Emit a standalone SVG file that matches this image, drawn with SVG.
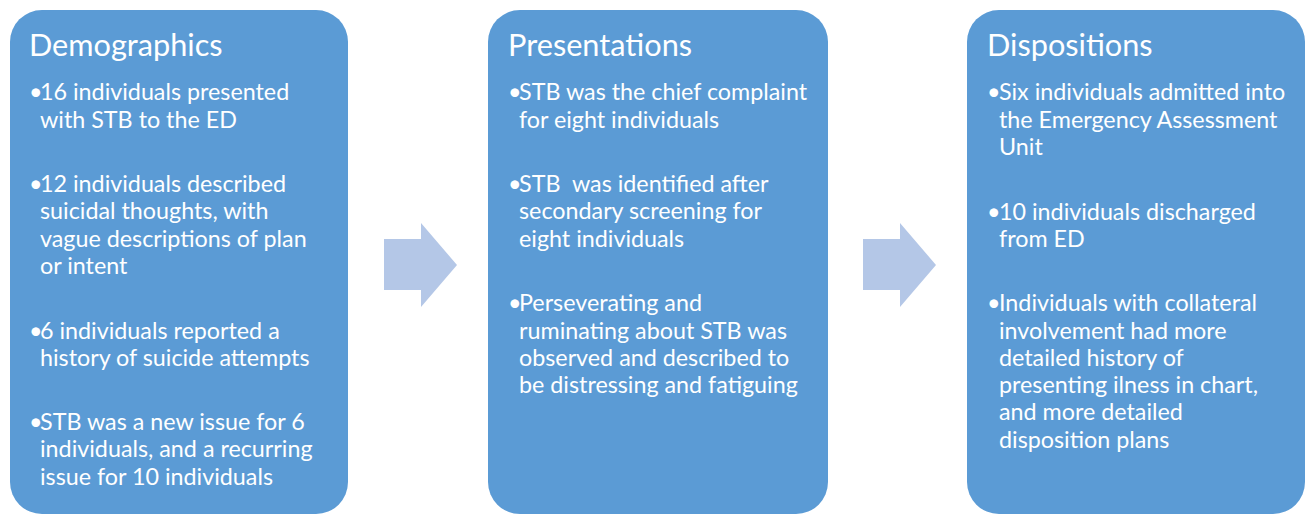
<svg xmlns="http://www.w3.org/2000/svg" width="1306" height="515" viewBox="0 0 1306 515">
<style>
.box{fill:#5B9BD5}
.arr{fill:#B4C7E7}
text{font-family:Lato,"Liberation Sans",sans-serif;fill:#FFFFFF}
.t{font-size:30.7px}
.b{font-size:23.3px;white-space:pre}
</style>
<rect width="1306" height="515" fill="#FFFFFF"/>
<g id="connectors">
<polygon class="arr" points="384,239 421,239 421,223 457,265 421,307 421,290 384,290"/>
<polygon class="arr" points="863,239 900,239 900,223 936,265 900,307 900,290 863,290"/>
</g>
<g id="demographics">
<rect class="box" x="10" y="10" width="338" height="504" rx="32"/>
<text class="t" x="29" y="56">Demographics</text>
<text class="b"><tspan x="29" y="100">•</tspan><tspan x="40" y="100">16 individuals presented</tspan><tspan x="40" y="128">with STB to the ED</tspan>
<tspan x="29" y="192">•</tspan><tspan x="40" y="192">12 individuals described</tspan><tspan x="40" y="219">suicidal thoughts, with</tspan><tspan x="40" y="247">vague descriptions of plan</tspan><tspan x="40" y="274">or intent</tspan>
<tspan x="29" y="339">•</tspan><tspan x="40" y="339">6 individuals reported a</tspan><tspan x="40" y="366">history of suicide attempts</tspan>
<tspan x="29" y="430">•</tspan><tspan x="40" y="430">STB was a new issue for 6</tspan><tspan x="40" y="457">individuals, and a recurring</tspan><tspan x="40" y="485">issue for 10 individuals</tspan></text>
</g>
<g id="presentations">
<rect class="box" x="488" y="10" width="340" height="504" rx="32"/>
<text class="t" x="508" y="56">Presentations</text>
<text class="b"><tspan x="508" y="100">•</tspan><tspan x="519" y="100">STB was the chief complaint</tspan><tspan x="519" y="128">for eight individuals</tspan>
<tspan x="508" y="192">•</tspan><tspan x="519" y="192">STB  was identified after</tspan><tspan x="519" y="219">secondary screening for</tspan><tspan x="519" y="247">eight individuals</tspan>
<tspan x="508" y="311">•</tspan><tspan x="519" y="311">Perseverating and</tspan><tspan x="519" y="339">ruminating about STB was</tspan><tspan x="519" y="366">observed and described to</tspan><tspan x="519" y="393">be distressing and fatiguing</tspan></text>
</g>
<g id="dispositions">
<rect class="box" x="967" y="10" width="338" height="504" rx="32"/>
<text class="t" x="987" y="56">Dispositions</text>
<text class="b"><tspan x="987" y="100">•</tspan><tspan x="999" y="100">Six individuals admitted into</tspan><tspan x="999" y="128">the Emergency Assessment</tspan><tspan x="999" y="155">Unit</tspan>
<tspan x="987" y="220">•</tspan><tspan x="999" y="220">10 individuals discharged</tspan><tspan x="999" y="247">from ED</tspan>
<tspan x="987" y="311">•</tspan><tspan x="999" y="311">Individuals with collateral</tspan><tspan x="999" y="339">involvement had more</tspan><tspan x="999" y="366">detailed history of</tspan><tspan x="999" y="393">presenting ilness in chart,</tspan><tspan x="999" y="420">and more detailed</tspan><tspan x="999" y="448">disposition plans</tspan></text>
</g>
</svg>
